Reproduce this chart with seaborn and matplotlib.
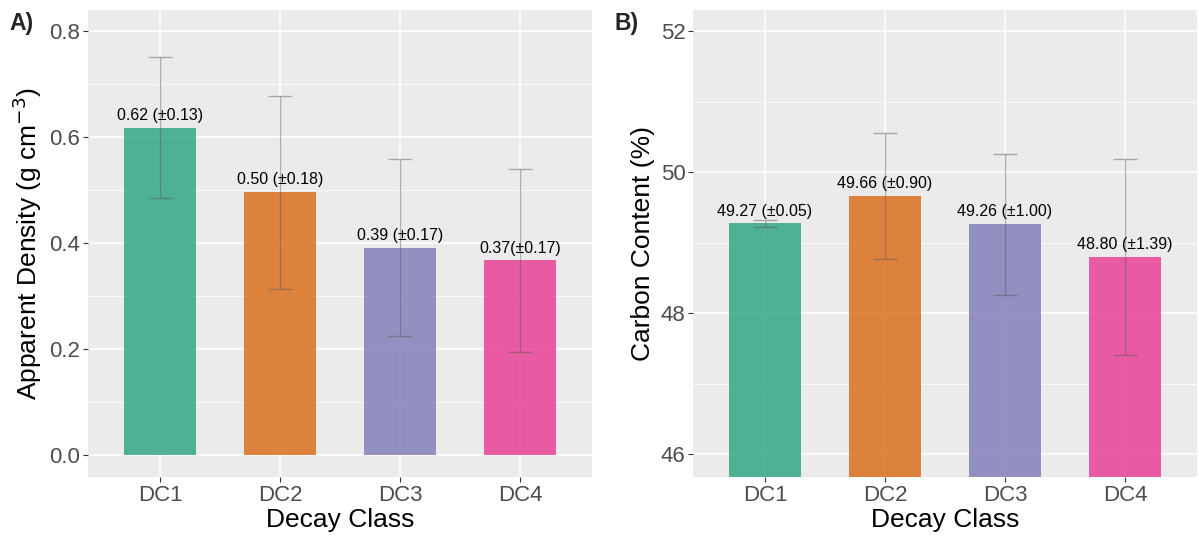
"""Apparent density and carbon content by decay class (two bar panels)."""
import matplotlib
matplotlib.use('Agg')
import matplotlib.pyplot as plt
from matplotlib.ticker import MultipleLocator
import pandas as pd
import seaborn as sns

# data
decay_class = ['DC1', 'DC2', 'DC3', 'DC4']
density_mean = [0.617, 0.496, 0.391, 0.367]
density_sd = [0.133, 0.182, 0.167, 0.172]
density_labels = ['0.62 (±0.13)', '0.50 (±0.18)', '0.39 (±0.17)', '0.37(±0.17)']
carbon_mean = [49.27, 49.66, 49.26, 48.80]
carbon_sd = [0.05, 0.90, 1.00, 1.39]
carbon_labels = ['49.27 (±0.05)', '49.66 (±0.90)', '49.26 (±1.00)', '48.80 (±1.39)']

colors = ['#1B9E77', '#D95F02', '#7570B3', '#E7298A']

sns.set_style('darkgrid', {'axes.facecolor': '#EBEBEB', 'grid.color': 'white'})
plt.rcParams['font.family'] = ['Liberation Sans', 'DejaVu Sans']

fig = plt.figure(figsize=(11.99, 5.39), dpi=100)
ax_a = fig.add_axes([88 / 1199, 1 - 477 / 539, 504 / 1199, 467 / 539])
ax_b = fig.add_axes([693 / 1199, 1 - 477 / 539, 504 / 1199, 467 / 539])


def draw_panel(ax, means, sds, labels, ylim, major, minor, ylabel, tag):
    df = pd.DataFrame({'cls': decay_class, 'val': means})
    sns.barplot(data=df, x='cls', y='val', hue='cls', palette=colors,
                saturation=1, alpha=0.75, width=0.6, legend=False, ax=ax,
                linewidth=0, errorbar=None)
    ax.errorbar(range(len(means)), means, yerr=sds, fmt='none',
                ecolor='#555555', alpha=0.45, elinewidth=1.0, capsize=8.5,
                capthick=1.0, zorder=3)
    for i, (m, s, lab) in enumerate(zip(means, sds, labels)):
        ax.annotate(lab, (i, m), xytext=(0, 3.5), textcoords='offset points',
                    ha='center', va='bottom', fontsize=11.5, color='black',
                    zorder=4)
    ax.set_xlim(-0.6, 3.6)
    ax.set_ylim(*ylim)
    ax.yaxis.set_major_locator(MultipleLocator(major))
    ax.yaxis.set_minor_locator(MultipleLocator(minor))
    ax.grid(which='major', color='white', linewidth=1.1)
    ax.grid(which='minor', axis='y', color='white', linewidth=0.55)
    ax.set_axisbelow(True)
    for s in ax.spines.values():
        s.set_visible(False)
    ax.tick_params(axis='both', which='major', length=3.5, width=0.8,
                   color='#333333', labelsize=16, labelcolor='#4D4D4D',
                   pad=2, left=True, bottom=True)
    ax.tick_params(axis='both', which='minor', length=0)
    ax.set_xlabel('Decay Class', fontsize=19, color='black', labelpad=2)
    ax.set_ylabel(ylabel, fontsize=19, color='black', labelpad=4)
    ax.text(tag[1], 0.978, tag[0], transform=fig.transFigure,
            fontsize=16.5, fontweight='bold', ha='left', va='top')


draw_panel(ax_a, density_mean, density_sd, density_labels, (-0.0415, 0.8396),
           0.2, 0.1, 'Apparent Density (g cm$^{-3}$)', ('A)', 9 / 1199))
ax_a.yaxis.set_major_formatter(matplotlib.ticker.FormatStrFormatter('%.1f'))
draw_panel(ax_b, carbon_mean, carbon_sd, carbon_labels, (45.674, 52.298),
           2, 1, 'Carbon Content (%)', ('B)', 614 / 1199))

plt.savefig('out.png', dpi=100)
plt.close()
